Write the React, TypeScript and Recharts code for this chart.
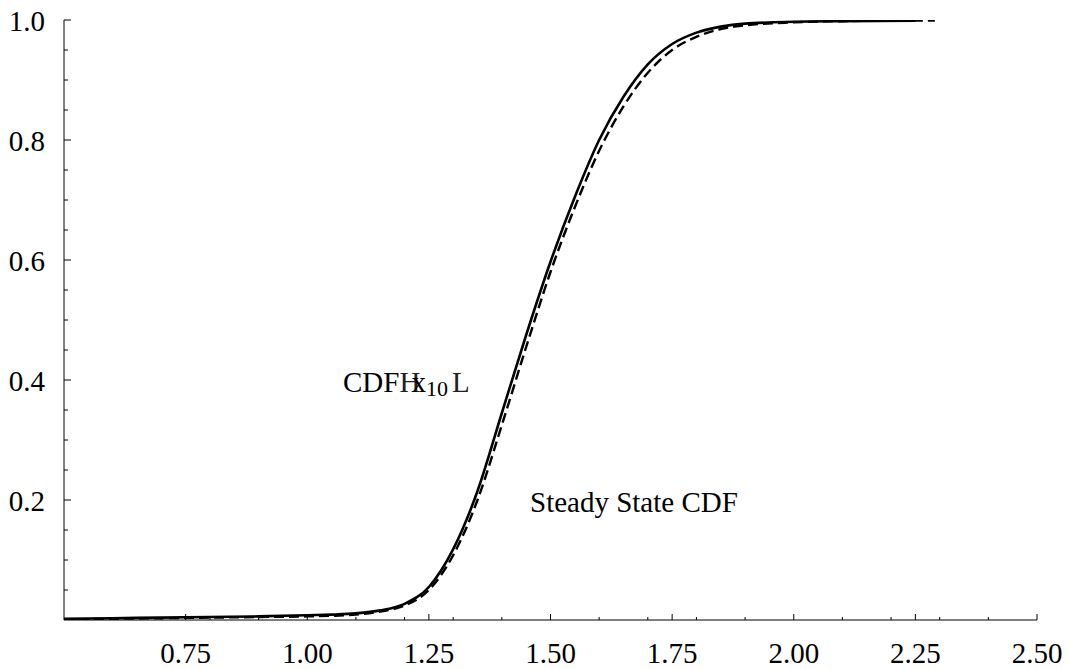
import { LineChart, Line, XAxis, YAxis } from 'recharts'

// CDF(x10) – solid curve
const cdfX = [0.5, 0.6, 0.7, 0.8, 0.9, 1.0, 1.05, 1.1, 1.15, 1.2, 1.25, 1.3, 1.35, 1.4, 1.45, 1.5, 1.55, 1.6, 1.65, 1.7, 1.75, 1.8, 1.85, 1.9, 2.0, 2.1, 2.25]
const cdfY = [0.002, 0.003, 0.004, 0.005, 0.006, 0.008, 0.009, 0.011, 0.016, 0.027, 0.055, 0.118, 0.215, 0.345, 0.475, 0.597, 0.705, 0.8, 0.872, 0.926, 0.96, 0.979, 0.989, 0.994, 0.997, 0.998, 0.999]

// steady state CDF – dashed curve
const ssX = [0.5, 0.6, 0.7, 0.8, 0.9, 1.0, 1.05, 1.1, 1.15, 1.2, 1.25, 1.3, 1.35, 1.4, 1.45, 1.5, 1.55, 1.6, 1.65, 1.7, 1.75, 1.8, 1.85, 1.9, 2.0, 2.1, 2.2, 2.29]
const ssY = [0.001, 0.002, 0.003, 0.004, 0.005, 0.006, 0.007, 0.009, 0.014, 0.024, 0.05, 0.108, 0.2, 0.325, 0.455, 0.58, 0.688, 0.782, 0.856, 0.912, 0.95, 0.972, 0.985, 0.991, 0.996, 0.998, 0.999, 0.999]

const xMajor = [0.75, 1.0, 1.25, 1.5, 1.75, 2.0, 2.25, 2.5]
const xMinor = [0.6, 0.7, 0.8, 0.9, 1.1, 1.2, 1.3, 1.4, 1.6, 1.7, 1.8, 1.9, 2.1, 2.2, 2.3, 2.4]
const yMajor = [0.2, 0.4, 0.6, 0.8, 1.0]
const yMinor = [0.05, 0.1, 0.15, 0.25, 0.3, 0.35, 0.45, 0.5, 0.55, 0.65, 0.7, 0.75, 0.85, 0.9, 0.95]

const cdfData = cdfX.map((x, i) => ({ x, y: cdfY[i] }))
const ssData = ssX.map((x, i) => ({ x, y: ssY[i] }))

const serif = '"Liberation Serif", "Times New Roman", Times, serif'

const isMajor = (list: number[], v: number) => list.some((m) => Math.abs(m - v) < 1e-6)

function XTick(props: any) {
  const { x, y, payload } = props
  const major = isMajor(xMajor, payload.value)
  return (
    <g>
      <line x1={x} x2={x} y1={y} y2={y - (major ? 6 : 3)} stroke="#000" strokeWidth={1} />
      {major && (
        <text x={x} y={y + 43} textAnchor="middle" style={{ fontFamily: serif, fontSize: 29 }} fill="#000">
          {payload.value.toFixed(2)}
        </text>
      )}
    </g>
  )
}

function YTick(props: any) {
  const { x, y, payload } = props
  const major = isMajor(yMajor, payload.value)
  return (
    <g>
      <line x1={x} x2={x + (major ? 7 : 4)} y1={y} y2={y} stroke="#000" strokeWidth={1} />
      {major && (
        <text x={x - 19} y={y + 11} textAnchor="end" style={{ fontFamily: serif, fontSize: 29 }} fill="#000">
          {payload.value.toFixed(1)}
        </text>
      )}
    </g>
  )
}

export default function App() {
  return (
    <div style={{ position: 'absolute', left: 0, top: 0, width: 1069, height: 669, background: '#fff' }}>
      <LineChart width={1069} height={669} margin={{ top: 20, right: 32, bottom: 0, left: 0 }}>
        <XAxis
          type="number"
          dataKey="x"
          domain={[0.5, 2.5]}
          ticks={[...xMinor, ...xMajor].sort((a, b) => a - b)}
          interval={0}
          height={49}
          tickSize={0}
          tickMargin={0}
          tickLine={false}
          tick={<XTick />}
          axisLine={{ stroke: '#000', strokeWidth: 1 }}
          allowDataOverflow
        />
        <YAxis
          type="number"
          dataKey="y"
          domain={[0, 1]}
          ticks={[...yMinor, ...yMajor].sort((a, b) => a - b)}
          interval={0}
          width={64}
          tickSize={0}
          tickMargin={0}
          tickLine={false}
          tick={<YTick />}
          axisLine={{ stroke: '#000', strokeWidth: 1 }}
          allowDataOverflow
        />
        <Line
          data={ssData}
          dataKey="y"
          type="monotone"
          stroke="#000"
          strokeWidth={2.4}
          strokeDasharray="10 5"
          dot={false}
          isAnimationActive={false}
        />
        <Line
          data={cdfData}
          dataKey="y"
          type="monotone"
          stroke="#000"
          strokeWidth={2.6}
          dot={false}
          isAnimationActive={false}
        />
      </LineChart>
      <svg width={1069} height={669} style={{ position: 'absolute', left: 0, top: 0, pointerEvents: 'none' }}>
        <text x={343} y={392} style={{ fontFamily: serif, fontSize: 29 }} fill="#000">
          CDF
          <tspan style={{ fontWeight: 100 }} fill="#222">H</tspan>
          <tspan dx={-9}>x</tspan>
          <tspan dy={4} style={{ fontSize: 22 }}>10</tspan>
          <tspan dy={-4} dx={4} fill="#222">L</tspan>
        </text>
        <text x={530} y={512} style={{ fontFamily: serif, fontSize: 29 }} fill="#000">
          Steady State CDF
        </text>
      </svg>
    </div>
  )
}
